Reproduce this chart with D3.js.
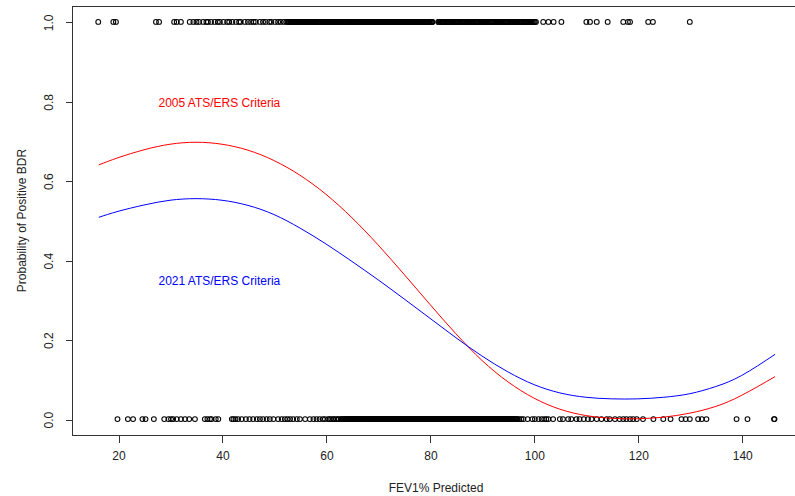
<!DOCTYPE html>
<html>
<head>
<meta charset="utf-8">
<script src="https://cdn.jsdelivr.net/npm/d3@7"></script>
<style>
  html, body { margin: 0; padding: 0; background: #fff; }
  svg { display: block; font-family: Arial, "Liberation Sans", sans-serif; }
</style>
</head>
<body>
<svg id="chart" width="795" height="496"></svg>
<script>
// ---------------- DATA ----------------
const xTicks = [20, 40, 60, 80, 100, 120, 140];
const yTicks = [0.0, 0.2, 0.4, 0.6, 0.8, 1.0];
const yTickLabels = ["0.0", "0.2", "0.4", "0.6", "0.8", "1.0"];

// observed FEV1% predicted with positive BDR (y = 1)
const positiveFEV1 = [
  16.2, 19.1, 19.6, 27.3, 27.9, 30.8, 31.3, 32.1,
  33.8, 34.5, 35.1, 35.6, 36.4, 37.0, 37.3, 37.9, 38.6, 39.2, 39.6, 40.3, 41.0, 41.4, 42.0, 42.7,
  43.3, 43.6, 44.4, 45.0, 45.6, 46.1, 46.5, 47.3, 47.9, 48.4, 49.1, 49.5, 50.2, 50.8, 51.3, 51.9, 52.4,
  52.7, 53.0, 53.3, 53.5, 53.9, 54.1, 54.3, 54.7, 54.9, 55.1, 55.5, 55.7, 55.9, 56.3, 56.4, 56.8, 57.0,
  57.3, 57.5, 57.9, 58.0, 58.4, 58.6, 58.9, 59.1, 59.5, 59.6, 60.0, 60.2, 60.5, 60.7, 61.1, 61.2, 61.6,
  61.8, 62.1, 62.3, 62.7, 62.8, 63.2, 63.4, 63.7, 63.9, 64.3, 64.4, 64.8, 65.0, 65.3, 65.5, 65.9, 66.0,
  66.4, 66.6, 66.9, 67.1, 67.5, 67.6, 68.0, 68.2, 68.5, 68.7, 69.1, 69.2, 69.6, 69.8, 70.1, 70.3, 70.7,
  70.8, 71.2, 71.4, 71.7, 71.9, 72.3, 72.4, 72.8, 73.0, 73.3, 73.5, 73.9, 74.0, 74.4, 74.6, 74.9, 75.1,
  75.5, 75.6, 76.0, 76.2, 76.5, 76.7, 77.1, 77.2, 77.6, 77.8, 78.1, 78.3, 78.7, 78.8, 79.2, 79.4, 79.7,
  79.9, 80.3, 80.5,
  81.6, 81.9, 82.3, 82.6, 83.0, 83.4, 83.7, 84.1, 84.4, 84.8, 85.2, 85.5, 85.9, 86.3, 86.6, 87.0, 87.3,
  87.7, 88.1, 88.4, 88.8, 89.1, 89.5, 89.9, 90.2, 90.6, 90.9, 91.3, 91.7, 92.0, 92.4, 92.8, 93.1, 93.5,
  93.8, 94.2, 94.6, 94.9, 95.3, 95.6, 96.0, 96.4, 96.7, 97.1, 97.5, 97.8, 98.2, 98.5, 98.9, 99.3, 99.6,
  100.0, 100.4,
  101.8, 102.8, 103.8, 105.3, 110.1, 110.8, 112.1, 114.2, 117.2, 118.1, 118.5, 122.0, 122.9, 130.0,
  52.85, 53.15, 53.4, 53.7, 54.0, 54.2, 54.5, 54.8, 55.0, 55.3, 55.6, 55.8, 56.1, 56.35, 56.6, 56.9,
  57.15, 57.4, 57.7, 57.95, 58.2, 58.5, 58.75, 59.0, 59.3, 59.55, 59.8, 60.1, 60.35, 60.6, 60.9, 61.15,
  61.4, 61.7, 61.95, 62.2, 62.5, 62.75, 63.0, 63.3, 63.55, 63.8, 64.1, 64.35, 64.6, 64.9, 65.15, 65.4,
  65.7, 65.95, 66.2, 66.5, 66.75, 67.0, 67.3, 67.55, 67.8, 68.1, 68.35, 68.6, 68.9, 69.15, 69.4, 69.7,
  69.95, 70.2, 70.5, 70.75, 71.0, 71.3, 71.55, 71.8, 72.1, 72.35, 72.6, 72.9, 73.15, 73.4, 73.7, 73.95,
  74.2, 74.5, 74.75, 75.0, 75.3, 75.55, 75.8, 76.1, 76.35, 76.6, 76.9, 77.15, 77.4, 77.7, 77.95, 78.2,
  78.5, 78.75, 79.0, 79.3, 79.55, 79.8, 80.1, 80.4,
  81.75, 82.1, 82.45, 82.8, 83.2, 83.55, 83.9, 84.25, 84.6, 85.0, 85.35, 85.7, 86.1, 86.45, 86.8, 87.15,
  87.5, 87.9, 88.25, 88.6, 88.95, 89.3, 89.7, 90.05, 90.4, 90.75, 91.1, 91.5, 91.85, 92.2, 92.6, 92.95,
  93.3, 93.65, 94.0, 94.4, 94.75, 95.1, 95.45, 95.8, 96.2, 96.55, 96.9, 97.3, 97.65, 98.0, 98.35, 98.7,
  99.1, 99.45, 99.8, 100.2
];

// observed FEV1% predicted with negative BDR (y = 0)
const negativeFEV1 = [
  19.9, 21.9, 22.9, 24.7, 25.3, 26.9, 28.9, 29.7, 30.2, 30.6, 31.3, 32.1, 32.9, 33.7, 34.8,
  36.7, 37.2, 37.7, 38.0, 38.8, 39.3,
  41.9, 42.2, 42.6, 43.1, 43.8, 44.6, 45.3, 46.0, 46.7, 47.3, 47.9, 48.6, 49.2, 49.9, 50.8, 51.5,
  52.1, 52.6, 53.1, 53.7, 54.4, 55.0, 56.0, 56.9, 57.6, 58.2, 58.8, 59.4, 59.8, 60.4,
  60.7, 61.0, 61.4, 61.6, 62.0, 62.3, 62.5, 62.9, 63.2, 63.4, 63.8, 64.0, 64.3, 64.5, 64.8, 65.0,
  65.3, 65.5, 65.8, 66.0, 66.3, 66.5, 66.8, 67.0, 67.3, 67.5, 67.8, 68.0, 68.3, 68.5, 68.8, 69.0,
  69.3, 69.5, 69.8, 70.0, 70.3, 70.5, 70.8, 71.0, 71.3, 71.5, 71.8, 72.0, 72.3, 72.5, 72.8, 73.0,
  73.3, 73.5, 73.8, 74.0, 74.3, 74.5, 74.8, 75.0, 75.3, 75.5, 75.8, 76.0, 76.3, 76.5, 76.8, 77.0,
  77.3, 77.5, 77.8, 78.0, 78.3, 78.5, 78.8, 79.0, 79.3, 79.5, 79.8, 80.0, 80.3, 80.5, 80.8, 81.0,
  81.3, 81.5, 81.8, 82.0, 82.3, 82.5, 82.8, 83.0, 83.3, 83.5, 83.8, 84.0, 84.3, 84.5, 84.8, 85.0,
  85.3, 85.5, 85.8, 86.0, 86.3, 86.5, 86.8, 87.0, 87.3, 87.5, 87.8, 88.0, 88.3, 88.5, 88.8, 89.0,
  89.3, 89.5, 89.8, 90.0, 90.3, 90.5, 90.8, 91.0, 91.3, 91.5, 91.8, 92.0, 92.3, 92.5, 92.8, 93.0,
  93.3, 93.5, 93.8, 94.0, 94.3, 94.5, 94.8, 95.0, 95.3, 95.5, 95.8, 96.0, 96.3, 96.6, 96.9, 97.2,
  97.6, 98.0, 98.8, 99.7, 100.2, 100.9, 101.5, 102.0, 102.4,
  102.8, 103.7, 105.0, 105.6, 106.6, 107.2, 108.2, 108.8, 109.6, 110.4, 111.1, 112.1, 113.0, 114.0,
  114.6, 115.6, 116.5, 117.2, 117.8, 118.5, 119.1, 119.8, 121.0, 123.0, 124.9, 126.3, 128.4, 129.2,
  130.0, 131.6, 132.3, 133.2, 139.0, 141.1, 146.2, 146.3,
  63.05, 63.6, 63.9, 64.15, 64.4, 64.65, 64.9, 65.15, 65.4, 65.65, 65.9, 66.15, 66.4, 66.65, 66.9,
  67.15, 67.4, 67.65, 67.9, 68.15, 68.4, 68.65, 68.9, 69.15, 69.4, 69.65, 69.9, 70.15, 70.4, 70.65,
  70.9, 71.15, 71.4, 71.65, 71.9, 72.15, 72.4, 72.65, 72.9, 73.15, 73.4, 73.65, 73.9, 74.15, 74.4,
  74.65, 74.9, 75.15, 75.4, 75.65, 75.9, 76.15, 76.4, 76.65, 76.9, 77.15, 77.4, 77.65, 77.9, 78.15,
  78.4, 78.65, 78.9, 79.15, 79.4, 79.65, 79.9, 80.15, 80.4, 80.65, 80.9, 81.15, 81.4, 81.65, 81.9,
  82.15, 82.4, 82.65, 82.9, 83.15, 83.4, 83.65, 83.9, 84.15, 84.4, 84.65, 84.9, 85.15, 85.4, 85.65,
  85.9, 86.15, 86.4, 86.65, 86.9, 87.15, 87.4, 87.65, 87.9, 88.15, 88.4, 88.65, 88.9, 89.15, 89.4,
  89.65, 89.9, 90.15, 90.4, 90.65, 90.9, 91.15, 91.4, 91.65, 91.9, 92.15, 92.4, 92.65, 92.9, 93.15,
  93.4, 93.65, 93.9, 94.15, 94.4, 94.65, 94.9, 95.15, 95.4, 95.65, 95.9, 96.15, 96.45, 96.75
];

// fitted probability curves
const curveFEV1 = [16.3, 20, 25, 30, 35, 40, 45, 50, 55, 60, 65, 70, 75, 80, 85, 90, 95, 100, 105, 110, 115, 120, 125, 130, 135, 140, 146.4];
const prob2005 = [0.640, 0.658, 0.678, 0.692, 0.697, 0.692, 0.677, 0.651, 0.614, 0.566, 0.507, 0.439, 0.365, 0.289, 0.215, 0.148, 0.094, 0.053, 0.025, 0.009, 0.002, 0.001, 0.005, 0.015, 0.032, 0.060, 0.107];
const prob2021 = [0.508, 0.523, 0.539, 0.551, 0.555, 0.551, 0.538, 0.515, 0.481, 0.441, 0.397, 0.351, 0.303, 0.254, 0.205, 0.159, 0.119, 0.087, 0.066, 0.055, 0.051, 0.051, 0.055, 0.064, 0.082, 0.110, 0.163];

const seriesLabels = ["2005 ATS/ERS Criteria", "2021 ATS/ERS Criteria"];
const seriesColors = ["#ff0000", "#0000ff"];
const labelPositions = [[39.5, 0.795], [39.5, 0.347]];

// ---------------- CHART ----------------
const svg = d3.select("#chart");
const plot = { left: 72, right: 800, top: 6, bottom: 435 };

const x = d3.scaleLinear().domain([11.15, 151.2]).range([plot.left, plot.right]);
const y = d3.scaleLinear().domain([-0.04, 1.04]).range([plot.bottom, plot.top]);

const axisColor = "#333";
const textColor = "#222";

// frame
svg.append("rect")
  .attr("x", plot.left + 0.5).attr("y", plot.top + 0.5)
  .attr("width", plot.right - plot.left).attr("height", plot.bottom - plot.top)
  .attr("fill", "none").attr("stroke", axisColor).attr("stroke-width", 1)
  .attr("shape-rendering", "crispEdges");

// x axis
const xAxis = d3.axisBottom(x).tickValues(xTicks).tickSize(7).tickPadding(9).tickFormat(d3.format("d"));
const gx = svg.append("g").attr("transform", `translate(0.5,${plot.bottom + 0.5})`).call(xAxis);
gx.select(".domain").remove();
gx.selectAll(".tick line").attr("stroke", axisColor).attr("shape-rendering", "crispEdges");
gx.selectAll(".tick text").attr("fill", textColor).style("font-size", "12px")
  .style("font-family", "Arial, 'Liberation Sans', sans-serif");

// y axis
const yAxis = d3.axisLeft(y).tickValues(yTicks).tickSize(7).tickFormat((d, i) => yTickLabels[i]);
const gy = svg.append("g").attr("transform", `translate(${plot.left + 0.5},0.5)`).call(yAxis);
gy.select(".domain").remove();
gy.selectAll(".tick line").attr("stroke", axisColor).attr("shape-rendering", "crispEdges");
gy.selectAll(".tick text")
  .attr("fill", textColor).style("font-size", "12px")
  .style("font-family", "Arial, 'Liberation Sans', sans-serif")
  .attr("x", 0).attr("dy", null)
  .attr("text-anchor", "middle")
  .attr("transform", "translate(-24,0) rotate(-90)")
  .attr("dominant-baseline", "central");

// axis titles
svg.append("text")
  .attr("x", (plot.left + plot.right) / 2).attr("y", 492)
  .attr("text-anchor", "middle").attr("fill", textColor)
  .style("font-size", "12px")
  .text("FEV1% Predicted");

svg.append("text")
  .attr("transform", `translate(26,${(plot.top + plot.bottom) / 2}) rotate(-90)`)
  .attr("text-anchor", "middle").attr("fill", textColor)
  .style("font-size", "12px")
  .text("Probability of Positive BDR");

// points
const pts = svg.append("g");
pts.selectAll("circle.pos").data(positiveFEV1).enter().append("circle")
  .attr("class", "pos")
  .attr("cx", d => x(d)).attr("cy", y(1))
  .attr("r", 2.4).attr("fill", "none").attr("stroke", "#000").attr("stroke-width", 1.05);
pts.selectAll("circle.neg").data(negativeFEV1).enter().append("circle")
  .attr("class", "neg")
  .attr("cx", d => x(d)).attr("cy", y(0))
  .attr("r", 2.4).attr("fill", "none").attr("stroke", "#000").attr("stroke-width", 1.05);

// curves
const line = d3.line().x(d => x(d[0])).y(d => y(d[1])).curve(d3.curveNatural);
[prob2005, prob2021].forEach((probs, i) => {
  const pairs = curveFEV1.map((v, j) => [v, probs[j]]);
  svg.append("path").datum(pairs)
    .attr("d", line).attr("fill", "none")
    .attr("stroke", seriesColors[i]).attr("stroke-width", 1);
});

// series labels
seriesLabels.forEach((lab, i) => {
  svg.append("text")
    .attr("x", x(labelPositions[i][0])).attr("y", y(labelPositions[i][1]))
    .attr("text-anchor", "middle").attr("dominant-baseline", "central")
    .attr("fill", seriesColors[i]).style("font-size", "12px")
    .text(lab);
});
</script>
</body>
</html>
